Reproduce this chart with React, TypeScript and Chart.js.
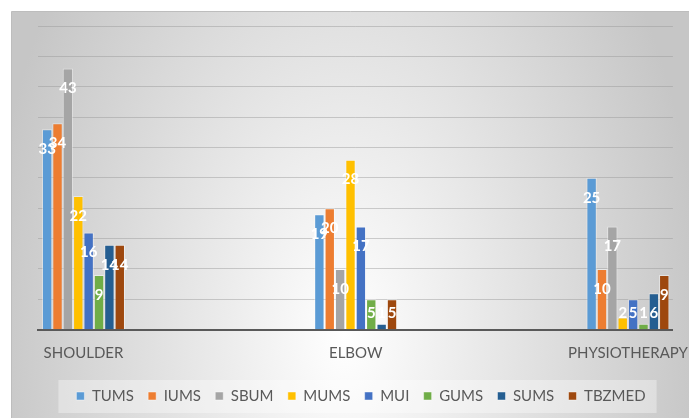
import React, { useEffect, useRef } from "react";
import { Chart, registerables } from "chart.js";

Chart.register(...registerables);

const categories = ["SHOULDER", "ELBOW", "PHYSIOTHERAPY"];
const seriesNames = ["TUMS", "IUMS", "SBUM", "MUMS", "MUI", "GUMS", "SUMS", "TBZMED"];
const TUMS = [33, 19, 25];
const IUMS = [34, 20, 10];
const SBUM = [43, 10, 17];
const MUMS = [22, 28, 2];
const MUI = [16, 17, 5];
const GUMS = [9, 5, 1];
const SUMS = [14, 1, 6];
const TBZMED = [14, 5, 9];
const seriesValues = [TUMS, IUMS, SBUM, MUMS, MUI, GUMS, SUMS, TBZMED];
const seriesColors = ["#5B9BD5", "#ED7D31", "#A5A5A5", "#FFC000", "#4472C4", "#70AD47", "#255E91", "#9E480E"];
const yMax = 50;
const yStep = 5;

const FONT = "Lato, 'Open Sans', sans-serif";
const TEXT = "#595959";

const bgPlugin = {
  id: "bgPlugin",
  afterLayout(chart: any) {
    const lg = chart.legend;
    if (lg) {
      lg.left += 5;
      lg.right += 5;
    }
  },
  beforeDraw(chart: any) {
    const { ctx, width, height } = chart;
    ctx.save();
    ctx.fillStyle = "#ffffff";
    ctx.fillRect(0, 0, width, height);
    ctx.beginPath();
    ctx.rect(11.5, 11.5, width + 10, height + 10);
    ctx.save();
    const cx = width * 0.5;
    const cy = height * 0.8;
    ctx.translate(cx, cy);
    ctx.scale(1, 1.65);
    const r = width * 0.52;
    const g = ctx.createRadialGradient(0, 0, 0, 0, 0, r);
    g.addColorStop(0, "#ffffff");
    g.addColorStop(1, "#c6c6c6");
    ctx.fillStyle = g;
    ctx.fill();
    ctx.restore();
    ctx.strokeStyle = "#bdbdbd";
    ctx.lineWidth = 1;
    ctx.stroke();
    const lg = chart.legend;
    if (lg && lg.legendHitBoxes && lg.legendHitBoxes.length) {
      const hb = lg.legendHitBoxes;
      const first = hb[0];
      const last = hb[hb.length - 1];
      const cyL = first.top + first.height / 2;
      const left = first.left - 18;
      const right = last.left + last.width + 11;
      ctx.fillStyle = "rgba(255,255,255,0.35)";
      ctx.fillRect(left, cyL - 16, right - left, 33);
    }
    ctx.restore();
  },
};

const labelPlugin = {
  id: "labelPlugin",
  afterDatasetsDraw(chart: any) {
    const { ctx } = chart;
    const base = chart.scales.y.getPixelForValue(0);
    ctx.save();
    ctx.font = `bold 15px ${FONT}`;
    ctx.fillStyle = "#ffffff";
    ctx.textAlign = "center";
    ctx.textBaseline = "middle";
    chart.data.datasets.forEach((ds: any, di: number) => {
      const meta = chart.getDatasetMeta(di);
      meta.data.forEach((el: any, i: number) => {
        const v = ds.data[i].y;
        ctx.fillText(String(v), el.x, Math.min(el.y + 20, base - 17));
      });
    });
    ctx.restore();
  },
};

export default function App() {
  const ref = useRef<HTMLCanvasElement | null>(null);
  useEffect(() => {
    if (!ref.current) return;
    const chart = new Chart(ref.current, {
      type: "bar",
      data: {
        datasets: seriesNames.map((name, si) => ({
          label: name,
          data: seriesValues[si].map((v, i) => ({ x: i, y: v })),
          backgroundColor: seriesColors[si],
          borderColor: "rgba(255,255,255,0.45)",
          borderWidth: 1,
          categoryPercentage: 0.305,
          barPercentage: 1,
        })),
      },
      options: {
        animation: false,
        responsive: true,
        maintainAspectRatio: false,
        layout: { padding: { left: 38, right: 15, top: 26, bottom: 4.5 } },
        plugins: {
          legend: {
            position: "bottom",
            labels: {
              font: { family: FONT, size: 15 },
              color: TEXT,
              boxWidth: 8,
              boxHeight: 8,
              padding: 14.3,
            },
          },
          tooltip: { enabled: false },
        },
        scales: {
          x: {
            type: "linear",
            offset: false,
            min: -0.167,
            max: 2.165,
            afterBuildTicks: (s: any) => {
              s.ticks = categories.map((_, i) => ({ value: i }));
            },
            afterFit: (s: any) => {
              s.height = 44.5;
            },
            ticks: {
              autoSkip: false,
              maxRotation: 0,
              padding: 0,
              font: { family: FONT, size: 15, lineHeight: "46px" },
              color: TEXT,
              callback: (v: any) => categories[v as number] ?? "",
            },
            grid: { display: false, drawTicks: false, offset: false },
            border: { display: true, color: "#595959", width: 2 },
          },
          y: {
            min: 0,
            max: yMax,
            ticks: { display: false, stepSize: yStep },
            grid: { color: "rgba(150,150,150,0.45)", lineWidth: 1, drawTicks: false },
            border: { display: false },
          },
        },
      },
      plugins: [bgPlugin, labelPlugin],
    } as any);
    return () => chart.destroy();
  }, []);
  return (
    <div style={{ position: "absolute", left: 0, top: 0, width: 689, height: 418 }}>
      <canvas ref={ref} />
    </div>
  );
}
